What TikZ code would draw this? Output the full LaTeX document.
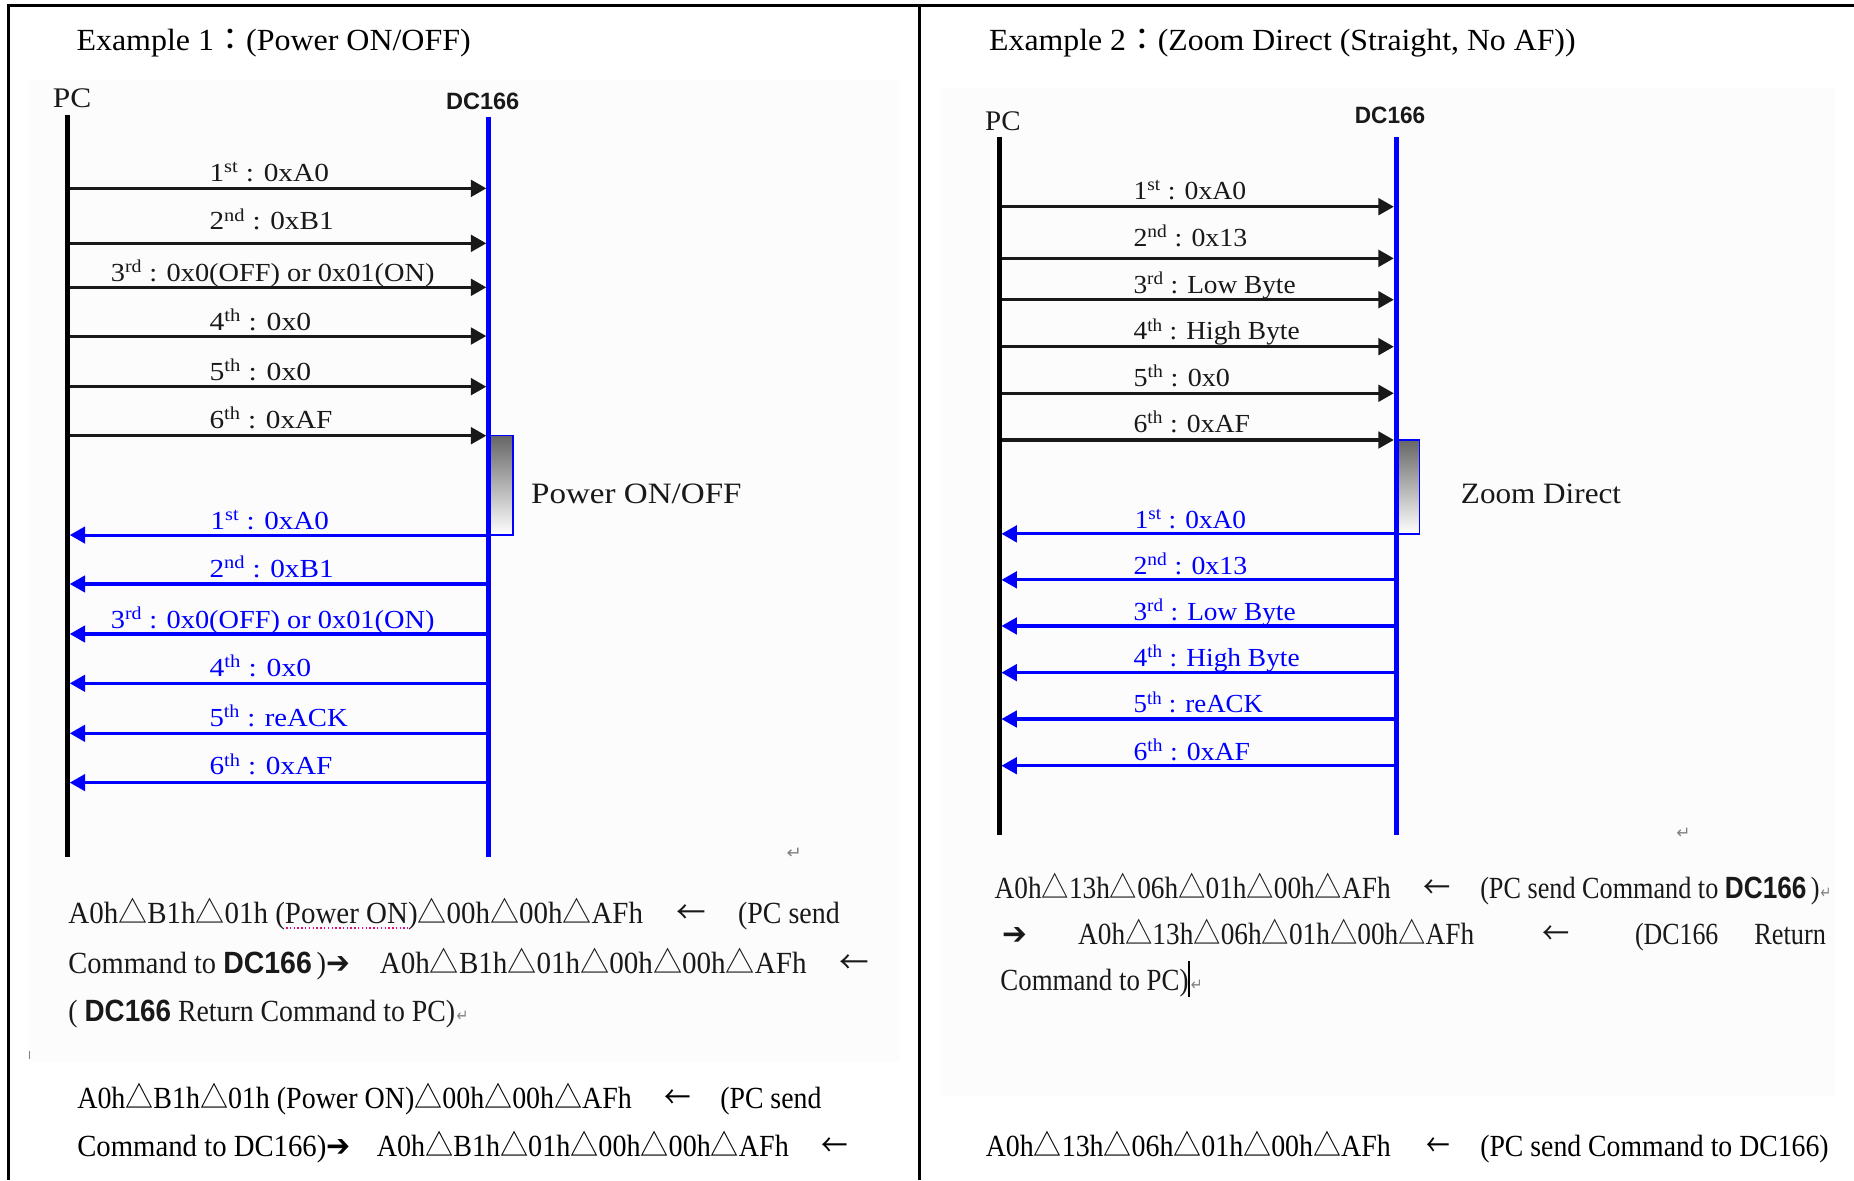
\documentclass[tikz,border=0pt]{standalone}
\usepackage{fontspec}
\usepackage{graphicx}
\setmainfont{Liberation Serif}
\newfontfamily\cjkf{Noto Sans CJK TC}
\newfontfamily\djv{DejaVu Sans}
\newfontfamily\sansf{Liberation Sans}
\usetikzlibrary{arrows.meta}
\definecolor{bgg}{RGB}{252,252,252}
\definecolor{dk}{RGB}{25,25,25}
\definecolor{pblue}{RGB}{0,0,255}
\newcommand\fw[2]{\resizebox{#1pt}{\height}{#2}}
\newcommand\tri{{\cjkf △}}
\newcommand\larr{{\cjkf ←}}
\newcommand\rarr{{\djv ➔}}
\newcommand\dcb{{\sansf\bfseries DC166}}
\newcommand\retm{{\djv\color{gray}↵}}
\newcommand\fcolon{{\cjkf ：}}
\newcommand\nth[2]{#1\textsuperscript{#2}}
\tikzset{
  txt/.style={inner sep=0pt, anchor=base west, font=\fontsize{26}{30}\selectfont, text=dk},
  ttl/.style={inner sep=0pt, anchor=base west, font=\fontsize{26}{30}\selectfont, text=black},
  lab/.style={inner sep=0pt, anchor=base west, font=\fontsize{22}{26}\selectfont},
  hdr/.style={inner sep=0pt, anchor=base west, font=\fontsize{24}{28}\selectfont, text=dk},
  hdrb/.style={inner sep=0pt, anchor=base west, font=\fontsize{20}{24}\sansf\bfseries, text=dk},
  lifeb/.style={draw=black, line width=4pt},
  lifeu/.style={draw=pblue, line width=4pt},
  msgb/.style={draw=dk, line width=2.6pt, shorten >=2pt, -{Triangle[length=13pt,width=14pt]}},
  msgu/.style={draw=pblue, line width=2.6pt, shorten >=2pt, -{Triangle[length=13pt,width=14pt]}},
  actbox/.style={top color=black!60, bottom color=white, draw=pblue, line width=1.2pt},
  frame/.style={draw=black, line width=2.5pt},
  bg/.style={fill=bgg, draw=none},
  retmark/.style={inner sep=0pt, anchor=base west, font=\fontsize{14}{16}\selectfont}
}
\begin{document}
\begin{tikzpicture}[x=1pt,y=-1pt]
\useasboundingbox (0,0) rectangle (1568,998);
% screenshot backgrounds
\fill[bg] (23.4,68) rectangle (761,898);
\fill[bg] (795,74.7) rectangle (1552,927);
% frame
\draw[frame] (7,998) -- (7,5) -- (1568,5);
\draw[frame] (778,5) -- (778,998);
% titles
\node[ttl] (title1) at (64.5,42.3) {\fw{333.5}{Example 1\fcolon(Power ON/OFF)}};
\node[ttl] (title2) at (836.4,42.3) {\fw{496}{Example 2\fcolon(Zoom Direct (Straight, No AF))}};

% ================= LEFT DIAGRAM =================
\node[hdr] (lpc) at (44.5,90.8) {\fw{32.5}{PC}};
\node[hdrb] (ldc) at (377,92.5) {\fw{62}{DC166}};
\coordinate (LPt) at (57,97);
\coordinate (LPb) at (57,724.5);
\coordinate (LDt) at (413.3,98.6);
\coordinate (LDb) at (413.3,724.5);
\shade[actbox] (413.3,368.5) rectangle (434,452.5);
\node[hdr, font=\fontsize{25}{28}\selectfont] (lact) at (449,425.7) {\fw{178}{Power ON/OFF}};
\foreach \i/\y in {1/159.3,2/205.8,3/243.0,4/284.2,5/327.0,6/368.5}{
  \coordinate (Lp\i) at (57,\y);
  \coordinate (Ld\i) at (413.3,\y);
  \draw[msgb] (Lp\i) -- (Ld\i);
}
\foreach \i/\y in {1/452.5,2/493.9,3/536.2,4/577.9,5/620.2,6/661.9}{
  \coordinate (Lq\i) at (57,\y);
  \coordinate (Le\i) at (413.3,\y);
  \draw[msgu] (Le\i) -- (Lq\i);
}
\draw[lifeb] (LPt) -- (LPb);
\draw[lifeu] (LDt) -- (LDb);
% left labels (black)
\node[lab,text=dk] (la1) at (177,153.6) {\fw{101}{\nth{1}{st} : 0xA0}};
\node[lab,text=dk] (la2) at (177,194.5) {\fw{105}{\nth{2}{nd} : 0xB1}};
\node[lab,text=dk] (la3) at (93.6,238.2) {\fw{273.7}{\nth{3}{rd} : 0x0(OFF) or 0x01(ON)}};
\node[lab,text=dk] (la4) at (177,279.1) {\fw{86}{\nth{4}{th} : 0x0}};
\node[lab,text=dk] (la5) at (177,321.4) {\fw{86}{\nth{5}{th} : 0x0}};
\node[lab,text=dk] (la6) at (177,362.3) {\fw{104}{\nth{6}{th} : 0xAF}};
% left labels (blue)
\node[lab,text=pblue] (lb1) at (178,447.7) {\fw{100}{\nth{1}{st} : 0xA0}};
\node[lab,text=pblue] (lb2) at (177,488.3) {\fw{105}{\nth{2}{nd} : 0xB1}};
\node[lab,text=pblue] (lb3) at (93.6,531.4) {\fw{273.7}{\nth{3}{rd} : 0x0(OFF) or 0x01(ON)}};
\node[lab,text=pblue] (lb4) at (177,572.3) {\fw{86}{\nth{4}{th} : 0x0}};
\node[lab,text=pblue] (lb5) at (177,614) {\fw{117}{\nth{5}{th} : reACK}};
\node[lab,text=pblue] (lb6) at (177,655.4) {\fw{104}{\nth{6}{th} : 0xAF}};
\node[retmark] (lret) at (665,726) {\fw{13}{\retm}};

% left screenshot text
\node[txt] (lt1a) at (57.7,780.9) {\fw{486}{A0h\tri B1h\tri 01h (Power ON)\tri 00h\tri 00h\tri AFh}};
\node[txt] (lt1b) at (572,780.9) {\fw{25}{\larr}};
\node[txt] (lt1c) at (624,780.9) {\fw{86}{(PC send}};
\draw[magenta!80!purple, dotted, line width=1.2pt] (242,785) -- (345,785);
\node[txt] (lt2a) at (57.7,823.2) {\fw{238}{Command to \dcb\,)\rarr}};
\node[txt] (lt2b) at (321,823.2) {\fw{361}{A0h\tri B1h\tri 01h\tri 00h\tri 00h\tri AFh}};
\node[txt] (lt2c) at (710,823.2) {\fw{25}{\larr}};
\node[txt] (lt3a) at (57.7,864.1) {\fw{327}{( \dcb{} Return Command to PC)}};
\node[retmark] (lt3b) at (386,864.1) {\fw{10}{\retm}};
\draw[gray, line width=1pt] (25,889) -- (25,896);

% left real text
\node[txt,text=black] (lu1a) at (65.2,937.4) {\fw{469}{A0h\tri B1h\tri 01h (Power ON)\tri 00h\tri 00h\tri AFh}};
\node[txt,text=black] (lu1b) at (561.7,937.4) {\fw{22.5}{\larr}};
\node[txt,text=black] (lu1c) at (609,937.4) {\fw{85.5}{(PC send}};
\node[txt,text=black] (lu2a) at (65.2,978.2) {\fw{231}{Command to DC166)\rarr}};
\node[txt,text=black] (lu2b) at (318.5,978.2) {\fw{348.5}{A0h\tri B1h\tri 01h\tri 00h\tri 00h\tri AFh}};
\node[txt,text=black] (lu2c) at (694.5,978.2) {\fw{22.5}{\larr}};

% ================= RIGHT DIAGRAM =================
\node[hdr] (rpc) at (833,110) {\fw{30}{PC}};
\node[hdrb] (rdc) at (1145.7,104.3) {\fw{59.5}{DC166}};
\coordinate (RPt) at (845,115.6);
\coordinate (RPb) at (845,706);
\coordinate (RDt) at (1180.8,115.6);
\coordinate (RDb) at (1180.8,706);
\shade[actbox] (1180.8,372.1) rectangle (1200.7,451.5);
\node[hdr, font=\fontsize{25}{28}\selectfont] (ract) at (1235.4,425.7) {\fw{135.4}{Zoom Direct}};
\foreach \i/\y in {1/174.8,2/218.5,3/253.5,4/293.2,5/332.6,6/372.1}{
  \coordinate (Rp\i) at (845,\y);
  \coordinate (Rd\i) at (1180.8,\y);
  \draw[msgb] (Rp\i) -- (Rd\i);
}
\foreach \i/\y in {1/451.5,2/490.4,3/529.4,4/568.9,5/608.1,6/647.6}{
  \coordinate (Rq\i) at (845,\y);
  \coordinate (Re\i) at (1180.8,\y);
  \draw[msgu] (Re\i) -- (Rq\i);
}
\draw[lifeb] (RPt) -- (RPb);
\draw[lifeu] (RDt) -- (RDb);
\node[lab,text=dk] (ra1) at (958.5,169) {\fw{95.2}{\nth{1}{st} : 0xA0}};
\node[lab,text=dk] (ra2) at (958.5,208.6) {\fw{96.1}{\nth{2}{nd} : 0x13}};
\node[lab,text=dk] (ra3) at (958.5,248) {\fw{137.1}{\nth{3}{rd} : Low Byte}};
\node[lab,text=dk] (ra4) at (958.5,287.5) {\fw{140.5}{\nth{4}{th} : High Byte}};
\node[lab,text=dk] (ra5) at (958.5,327) {\fw{81.5}{\nth{5}{th} : 0x0}};
\node[lab,text=dk] (ra6) at (958.5,366) {\fw{98.5}{\nth{6}{th} : 0xAF}};
\node[lab,text=pblue] (rb1) at (959.5,447) {\fw{94.2}{\nth{1}{st} : 0xA0}};
\node[lab,text=pblue] (rb2) at (958.5,486) {\fw{96.1}{\nth{2}{nd} : 0x13}};
\node[lab,text=pblue] (rb3) at (958.5,525) {\fw{137.1}{\nth{3}{rd} : Low Byte}};
\node[lab,text=pblue] (rb4) at (958.5,564) {\fw{140.5}{\nth{4}{th} : High Byte}};
\node[lab,text=pblue] (rb5) at (958.5,603) {\fw{109.5}{\nth{5}{th} : reACK}};
\node[lab,text=pblue] (rb6) at (958.5,643) {\fw{98.5}{\nth{6}{th} : 0xAF}};
\node[retmark] (rret) at (1417.6,709) {\fw{12}{\retm}};

% right screenshot text
\node[txt] (rt1a) at (841,759.8) {\fw{335}{A0h\tri 13h\tri 06h\tri 01h\tri 00h\tri AFh}};
\node[txt] (rt1b) at (1203.5,759.8) {\fw{23}{\larr}};
\node[txt] (rt1c) at (1251.7,759.8) {\fw{287}{(PC send Command to \dcb\,)}};
\node[retmark] (rt1d) at (1539.5,759.8) {\fw{9}{\retm}};
\node[txt] (rt2a) at (848,799.2) {\fw{21}{\rarr}};
\node[txt] (rt2b) at (911.6,799.2) {\fw{335}{A0h\tri 13h\tri 06h\tri 01h\tri 00h\tri AFh}};
\node[txt] (rt2c) at (1304.5,799.2) {\fw{23}{\larr}};
\node[txt] (rt2d) at (1382.6,799.2) {\fw{70.5}{(DC166}};
\node[txt] (rt2e) at (1483.5,799.2) {\fw{60.5}{Return}};
\node[txt] (rt3a) at (845.9,837.3) {\fw{159}{Command to PC)}};
\draw[black, line width=2pt] (1005.6,813) -- (1005.6,843);
\node[retmark] (rt3b) at (1007,837.3) {\fw{10}{\retm}};

% right real text
\node[txt,text=black] (ru1a) at (833.5,978.2) {\fw{342.5}{A0h\tri 13h\tri 06h\tri 01h\tri 00h\tri AFh}};
\node[txt,text=black] (ru1b) at (1206,978.2) {\fw{20}{\larr}};
\node[txt,text=black] (ru1c) at (1251.7,978.2) {\fw{294.7}{(PC send Command to DC166)}};
\end{tikzpicture}
\end{document}
